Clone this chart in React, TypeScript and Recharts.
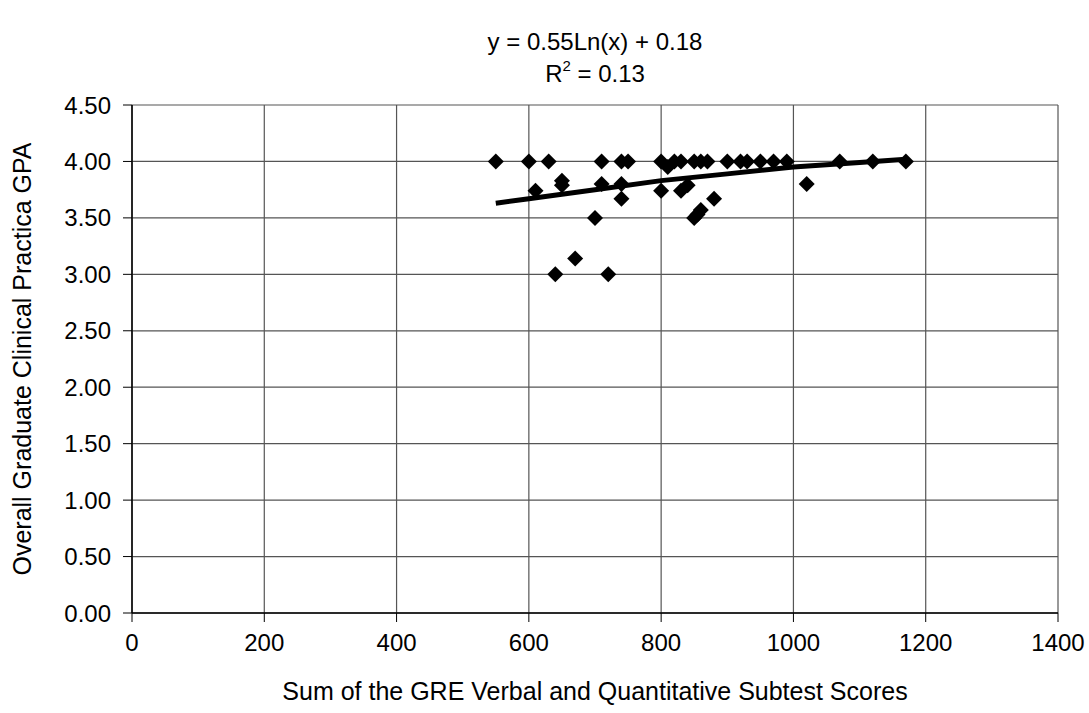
import { ScatterChart, Scatter, XAxis, YAxis, CartesianGrid, Label } from "recharts";

// GRE sum (V + Q) vs. overall clinical practica GPA
const greScores = [
  550, 600, 630, 710, 740, 750, 800, 820, 830, 850, 860, 870, 900, 920, 930, 950, 970, 990, 1070, 1120, 1170,
  610, 650, 650, 710, 740, 740, 700, 800, 810, 830, 840, 850, 855, 860, 880, 640, 670, 720, 1020,
];
const gpaValues = [
  4.0, 4.0, 4.0, 4.0, 4.0, 4.0, 4.0, 4.0, 4.0, 4.0, 4.0, 4.0, 4.0, 4.0, 4.0, 4.0, 4.0, 4.0, 4.0, 4.0, 4.0,
  3.74, 3.83, 3.79, 3.8, 3.8, 3.67, 3.5, 3.74, 3.95, 3.74, 3.79, 3.5, 3.53, 3.57, 3.67, 3.0, 3.14, 3.0, 3.8,
];

// log trendline
const trendX = [550, 600, 700, 800, 900, 1000, 1100, 1170];
const trendY = [3.63, 3.67, 3.75, 3.83, 3.89, 3.95, 3.99, 4.02];

const xTicks = [0, 200, 400, 600, 800, 1000, 1200, 1400];
const yTicks = [0, 0.5, 1, 1.5, 2, 2.5, 3, 3.5, 4, 4.5];

const points = greScores.map((x, i) => ({ x, y: gpaValues[i] }));
const trend = trendX.map((x, i) => ({ x, y: trendY[i] }));

const FONT = "'Liberation Sans', Arial, sans-serif";
const tickStyle = { fontSize: 24, fill: "#000", fontFamily: FONT };

function Diamond(props: any) {
  const { cx, cy } = props;
  const r = 8;
  return (
    <polygon
      points={`${cx},${cy - r} ${cx + r},${cy} ${cx},${cy + r} ${cx - r},${cy}`}
      fill="#000"
    />
  );
}

export default function App() {
  return (
    <div style={{ position: "absolute", left: 0, top: 0, width: 1089, height: 713, background: "#fff", fontFamily: FONT }}>
      <div style={{ position: "absolute", left: 0, width: 1190, top: 26, textAlign: "center", fontSize: 24, lineHeight: "32px", color: "#000" }}>
        y = 0.55Ln(x) + 0.18
        <br />
        R<sup style={{ fontSize: 15, verticalAlign: "11px", lineHeight: 0 }}>2</sup> = 0.13
      </div>
      <ScatterChart width={1089} height={713} margin={{ top: 105, right: 31, bottom: 10, left: 10 }}>
        <CartesianGrid stroke="#555" strokeWidth={1.2} />
        <XAxis
          type="number"
          dataKey="x"
          domain={[0, 1400]}
          ticks={xTicks}
          interval={0}
          height={90}
          tickSize={9}
          tickMargin={12}
          tick={tickStyle}
          axisLine={{ stroke: "#000", strokeWidth: 1.5 }}
          tickLine={{ stroke: "#000" }}
        >
          <Label
            value="Sum of the GRE Verbal and Quantitative Subtest Scores"
            position="insideBottom"
            offset={3}
            style={{ fontSize: 25, fill: "#000", fontFamily: FONT }}
          />
        </XAxis>
        <YAxis
          type="number"
          dataKey="y"
          domain={[0, 4.5]}
          ticks={yTicks}
          interval={0}
          width={122}
          tickSize={9}
          tickMargin={12}
          tick={tickStyle}
          tickFormatter={(v: number) => v.toFixed(2)}
          axisLine={{ stroke: "#000", strokeWidth: 1.5 }}
          tickLine={{ stroke: "#000" }}
        >
          <Label
            value="Overall Graduate Clinical Practica GPA"
            angle={-90}
            position="center"
            dx={-49}
            style={{ fontSize: 25, fill: "#000", fontFamily: FONT, textAnchor: "middle" }}
          />
        </YAxis>
        <Scatter
          data={trend}
          line={{ stroke: "#000", strokeWidth: 5 }}
          lineType="joint"
          shape={() => <g />}
          isAnimationActive={false}
        />
        <Scatter data={points} shape={Diamond} isAnimationActive={false} />
      </ScatterChart>
    </div>
  );
}
